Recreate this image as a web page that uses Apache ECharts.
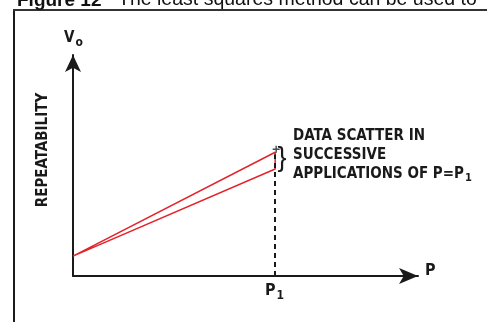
<!DOCTYPE html>
<html>
<head>
<meta charset="utf-8">
<script src="https://cdn.jsdelivr.net/npm/echarts@6/dist/echarts.min.js"></script>
<style>
html,body{margin:0;padding:0;background:#fff;}
#c{width:487px;height:322px;}
</style>
</head>
<body>
<div id="c"></div>
<script>
// Data (relative units on both axes, 0..100)
const xMax = 100;
const yMax = 100;
const p1 = 58.6;            // position of P = P1
const vStart = 9.0;         // output at P = 0
const vHigh = 56.0;         // highest output at P1
const vLow = 48.4;          // lowest output at P1
const dashTop = 55.0;       // top of dashed P1 guide
const scatterPoints = [[0, vStart], [p1, vHigh], [p1, vLow], [0, vStart]];
const annotationLines = ['DATA SCATTER IN', 'SUCCESSIVE', 'APPLICATIONS OF P=P'];

const chart = echarts.init(document.getElementById('c'), null, {renderer: 'canvas'});
const narrow = '"Liberation Sans Narrow", "DejaVu Sans Condensed", "Arial Narrow", sans-serif';
const black = '#1a1a1a';
const red = '#e3242b';

chart.setOption({
  animation: false,
  backgroundColor: '#fff',
  grid: {left: 73, top: 55, width: 345, height: 221, containLabel: false},
  xAxis: {
    type: 'value', min: 0, max: xMax,
    axisLine: {show: true, symbol: ['none', 'arrow'], symbolSize: [12, 19], symbolOffset: [0, 0],
      lineStyle: {color: black, width: 2}},
    axisTick: {show: false}, axisLabel: {show: false}, splitLine: {show: false}
  },
  yAxis: {
    type: 'value', min: 0, max: yMax,
    axisLine: {show: true, symbol: ['none', 'arrow'], symbolSize: [12, 17],
      lineStyle: {color: black, width: 2}},
    axisTick: {show: false}, axisLabel: {show: false}, splitLine: {show: false}
  },
  series: [
    {
      type: 'line',
      data: scatterPoints,
      symbol: 'none',
      lineStyle: {color: red, width: 1.5},
      z: 3,
      markLine: {
        silent: true, symbol: 'none',
        lineStyle: {color: black, width: 2, type: [5, 4]},
        label: {show: false},
        data: [[{coord: [p1, 0]}, {coord: [p1, dashTop]}]]
      }
    },
    {
      type: 'scatter',
      data: [[p1, vHigh]],
      symbol: 'path://M4,0 L6,0 L6,4 L10,4 L10,6 L6,6 L6,10 L4,10 L4,6 L0,6 L0,4 L4,4 Z',
      symbolSize: 7,
      symbolOffset: [1, -3],
      itemStyle: {color: black},
      z: 4
    }
  ],
  graphic: [
    // frame
    {type: 'line', shape: {x1: 14, y1: 10, x2: 14, y2: 322}, style: {stroke: black, lineWidth: 2}},
    {type: 'line', shape: {x1: 13, y1: 10, x2: 487, y2: 10}, style: {stroke: '#333', lineWidth: 2}},
    // title (cut off)
    {type: 'text', x: 17, y: 10, style: {
      text: 'Figure 12', fontFamily: 'Liberation Sans, Arial, sans-serif', fontWeight: 'bold',
      fontSize: 19, fill: '#111', align: 'left', verticalAlign: 'bottom'}},
    {type: 'text', x: 118, y: 10, style: {
      text: 'The least squares method can be used to', fontFamily: 'Liberation Sans, Arial, sans-serif',
      fontSize: 19.5, fill: '#111', align: 'left', verticalAlign: 'bottom'}},
    // y axis label Vo
    {type: 'text', left: 64, top: 31, style: {
      text: '{v|V}{s|o}',
      rich: {
        v: {fontFamily: narrow, fontWeight: 'bold', fontSize: 15, fill: black},
        s: {fontFamily: narrow, fontWeight: 'bold', fontSize: 12, fill: black, padding: [8, 0, 0, 1]}
      }}},
    // REPEATABILITY
    {type: 'text', x: 43, y: 150, rotation: Math.PI / 2, style: {
      text: 'REPEATABILITY', fontFamily: narrow, fontWeight: 'bold', fontSize: 15,
      fill: black, align: 'center', verticalAlign: 'middle'}},
    // P axis label
    {type: 'text', x: 425, y: 271, style: {
      text: 'P', fontFamily: narrow, fontWeight: 'bold', fontSize: 16,
      fill: black, align: 'left', verticalAlign: 'middle'}},
    // P1 label
    {type: 'text', left: 265, top: 283, style: {
      text: '{v|P}{s|1}',
      rich: {
        v: {fontFamily: narrow, fontWeight: 'bold', fontSize: 16, fill: black},
        s: {fontFamily: narrow, fontWeight: 'bold', fontSize: 12, fill: black, padding: [9, 0, 0, 1]}
      }}},
    // brace
    {type: 'text', x: 282, y: 159, style: {
      text: '}', fontFamily: 'Liberation Sans, sans-serif', fontSize: 27, fill: black,
      align: 'center', verticalAlign: 'middle'}},
    // annotation
    {type: 'text', x: 293, y: 136, style: {
      text: annotationLines[0], fontFamily: narrow, fontWeight: 'bold', fontSize: 15,
      fill: black, align: 'left', verticalAlign: 'middle'}},
    {type: 'text', x: 293, y: 155, style: {
      text: annotationLines[1], fontFamily: narrow, fontWeight: 'bold', fontSize: 15,
      fill: black, align: 'left', verticalAlign: 'middle'}},
    {type: 'text', left: 293, top: 167, style: {
      text: '{v|' + annotationLines[2] + '}{s|1}',
      rich: {
        v: {fontFamily: narrow, fontWeight: 'bold', fontSize: 15, fill: black},
        s: {fontFamily: narrow, fontWeight: 'bold', fontSize: 11, fill: black, padding: [8, 0, 0, 1]}
      }}}
  ]
});
</script>
</body>
</html>
